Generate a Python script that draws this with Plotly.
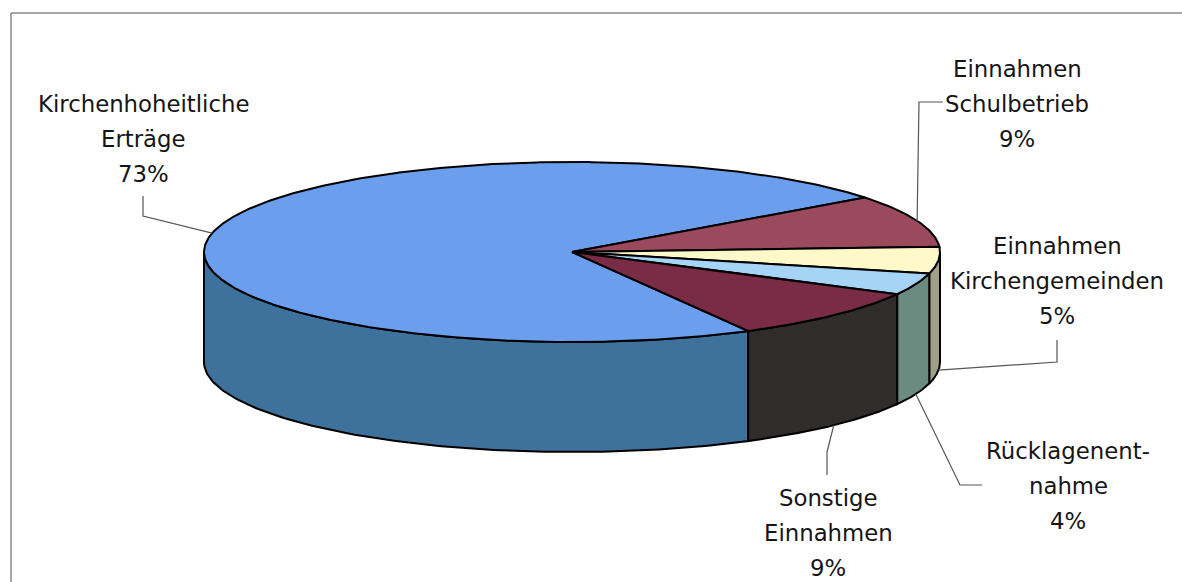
import numpy as np
import plotly.graph_objects as go

# ---- data ----
categories = ["Kirchenhoheitliche Erträge", "Einnahmen Schulbetrieb",
              "Einnahmen Kirchengemeinden", "Rücklagenentnahme", "Sonstige Einnahmen"]
values = [72.6, 9.4, 4.8, 3.9, 9.3]
label_lines = [["Kirchenhoheitliche", "Erträge"],
               ["Einnahmen", "Schulbetrieb"],
               ["Einnahmen", "Kirchengemeinden"],
               ["Rücklagenent-", "nahme"],
               ["Sonstige", "Einnahmen"]]

# ---- styles / layout ----
top_colors = ["#6B9EEC", "#9B4A5E", "#FFF8C8", "#A5D4F7", "#7A2C46"]
side_colors = ["#3E719C", "#5A2A36", "#A0A08A", "#6C8B80", "#2F2C2B"]

W, H = 1182, 582
CX, CY, RX, RY, DEPTH = 572, 252, 368, 90, 110
START = -61.4  # math degrees, slices run clockwise

label_pos = [(143, 104), (1017, 69), (1057, 246), (1068, 451), (828, 498)]
elbows = [[(143, 196), (143, 216)],
          [(943, 102), (919, 102)],
          [(1057, 340), (1057, 362)],
          [(982, 485), (960, 485)],
          [(827, 475), (827, 452)]]
LINE_GAP = 35
FONT = dict(family="DejaVu Sans", size=22.8, color="#151515")


def pt(t, dz=0.0):
    r = np.radians(t)
    return CX + RX * np.cos(r), CY - RY * np.sin(r) + dz


total = sum(values)
spans = [v / total * 360.0 for v in values]
bounds = []
a = START
for s in spans:
    bounds.append((a - s, a))  # (lo, hi)
    a -= s

fig = go.Figure()

# side walls (front half only)
for i, (lo, hi) in enumerate(bounds):
    for k in range(-2, 2):
        l = max(lo, -180 + 360 * k)
        h = min(hi, 360 * k)
        if h > l:
            ts = np.linspace(l, h, 120)
            xt, yt = pt(ts)
            xb, yb = pt(ts[::-1], DEPTH)
            xs = np.concatenate([xt, xb, xt[:1]])
            ys = np.concatenate([yt, yb, yt[:1]])
            fig.add_trace(go.Scatter(x=xs, y=ys, mode="lines", fill="toself",
                                     fillcolor=side_colors[i],
                                     line=dict(color="black", width=2),
                                     hoverinfo="skip", showlegend=False))

# top faces
for i, (lo, hi) in enumerate(bounds):
    ts = np.linspace(hi, lo, max(int((hi - lo) * 2), 10))
    xa, ya = pt(ts)
    xs = np.concatenate([[CX], xa, [CX]])
    ys = np.concatenate([[CY], ya, [CY]])
    fig.add_trace(go.Scatter(x=xs, y=ys, mode="lines", fill="toself",
                             fillcolor=top_colors[i],
                             line=dict(color="black", width=2),
                             hoverinfo="skip", showlegend=False))

# labels and leader lines
annotations = []
for i, (lo, hi) in enumerate(bounds):
    mid = (lo + hi) / 2.0
    s = np.sin(np.radians(mid))
    ax, ay = pt(mid, 0 if s >= 0 else DEPTH)
    ex = [p[0] for p in elbows[i]] + [float(ax)]
    ey = [p[1] for p in elbows[i]] + [float(ay)]
    fig.add_trace(go.Scatter(x=ex, y=ey, mode="lines",
                             line=dict(color="#555555", width=1.2),
                             hoverinfo="skip", showlegend=False))
    pct = f"{round(values[i] / total * 100)}%"
    lines = label_lines[i] + [pct]
    lx, ly = label_pos[i]
    for j, txt in enumerate(lines):
        annotations.append(dict(x=lx, y=ly + j * LINE_GAP, text=txt, showarrow=False,
                                xanchor="center", yanchor="middle", font=FONT))

fig.update_layout(
    width=W, height=H,
    margin=dict(l=0, r=0, t=0, b=0),
    paper_bgcolor="white", plot_bgcolor="white",
    xaxis=dict(range=[0, W], visible=False, fixedrange=True),
    yaxis=dict(range=[H, 0], visible=False, fixedrange=True),
    showlegend=False, hovermode=False,
    annotations=annotations,
    shapes=[
        dict(type="line", xref="x", yref="y", x0=11, y0=13, x1=W, y1=13,
             line=dict(color="#8a8a8a", width=1.5)),
        dict(type="line", xref="x", yref="y", x0=11, y0=13, x1=11, y1=H,
             line=dict(color="#8a8a8a", width=1.5)),
    ],
)

fig.write_html("out.html",
               config={"displayModeBar": False},
               post_script="document.body.style.margin='0px';"
                           "document.body.style.overflow='hidden';")
